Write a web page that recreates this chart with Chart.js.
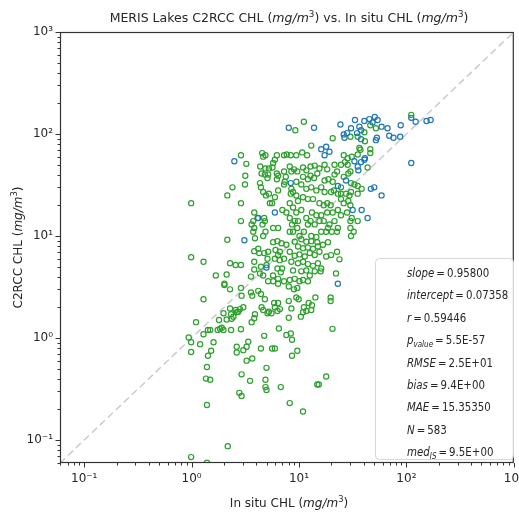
<!DOCTYPE html>
<html><head><meta charset="utf-8">
<script src="https://cdn.jsdelivr.net/npm/chart.js@4/dist/chart.umd.min.js"></script>
<style>html,body{margin:0;padding:0;background:#fff}</style>
</head><body>
<canvas id="c" width="519" height="513"></canvas>
<script>
// ---------- data ----------
const greenX = [2.88,3.23,3.16,3.14,2.40,2.15,0.99,2.88,2.88,2.15,0.99,1.29,2.28,2.57,2.88,1.68,2.12,3.57,2.02,
4.54,4.87,4.64,6.22,5.96,5.74,7.26,7.69,4.35,4.87,5.24,5.66,4.48,4.81,5.16,6.22,6.39,7.26,7.53,5.09,6.22,7.37,7.26,
4.33,4.42,4.64,4.92,5.24,6.39,5.96,5.35,5.62,7.00,7.63,3.83,4.11,3.75,3.62,4.74,4.81,4.57,3.83,3.75,6.39,5.74,4.87,
4.64,3.89,5.74,6.30,6.86,7.63,4.17,3.83,4.26,4.74,5.16,6.04,6.63,6.39,3.83,5.09,5.96,6.63,7.26,4.98,4.42,6.30,6.96,
6.77,3.83,4.33,4.64,5.74,6.39,5.74,5.16,6.39,7.26,
9.24,11.1,46.1,52.0,30.1,35.2,41.1,20.6,13.0,10.7,11.9,8.38,9.44,26.1,28.4,31.0,35.2,37.3,36.5,46.1,46.1,43.5,
21.4,24.6,26.8,28.4,17.3,18.3,14.0,15.5,14.8,10.9,11.7,12.8,8.20,8.99,9.64,8.49,21.4,22.6,26.1,28.8,30.1,10.9,
12.1,12.8,13.8,17.3,18.8,20.6,9.44,30.5,32.8,24.6,35.2,38.3,10.5,11.7,13.0,14.5,16.1,8.49,8.80,9.44,8.38,17.3,
19.9,21.1,23.0,24.6,27.4,29.5,30.5,35.2,10.9,12.1,13.5,9.79,8.20,15.5,17.0,18.3,19.7,24.6,26.1,28.8,30.1,8.80,
9.44,10.5,13.2,14.5,16.1,18.3,20.6,23.0,24.6,28.0,31.0,35.2,30.1,8.20,9.12,9.79,8.61,9.64,11.7,12.8,12.1,14.0,
15.5,17.0,19.2,21.4,23.0,18.6,20.2,22.6,17.9,8.20,8.80,10.1,11.1,30.1,32.3,13.0,14.5,16.1,30.5,9.12,10.5,11.7,
13.0,14.8,9.79,10.9,12.1,13.5,15.0,16.7,18.6,22.6,19.9,17.9,8.20,9.12,10.1,11.3,12.6,14.0,15.5,8.49,9.79,10.9,
12.1,13.5,15.0,16.1,8.80,10.5,11.7,12.6,14.0,15.9,22.1,9.12,10.1,10.9,12.1,8.20,23.8,
2.02,2.28,2.88,2.92,3.57,3.67,4.17,4.42,1.29,4.81,4.48,4.64,5.09,5.87,6.39,6.63,6.30,5.96,5.54,5.24,3.03,2.28,
2.57,2.82,2.72,1.98,2.33,2.45,2.63,3.89,3.83,3.62,2.36,1.80,2.12,1.10,1.42,1.49,1.29,1.75,1.84,1.91,1.98,2.33,
2.88,0.94,0.99,1.20,1.60,4.74,6.49,7.63,0.99,1.42,1.52,2.63,2.63,3.03,3.25,3.37,4.42,5.62,5.96,3.67,3.25,1.39,
4.98,2.92,1.36,1.49,3.50,4.87,6.77,4.87,4.98,2.78,2.92,1.39,2.17,0.99,1.39,
14.8,15.3,17.9,20.5,19.7,19.7,8.03,8.99,9.64,9.44,9.93,8.03,8.49,11.1,12.3,13.2,10.9,11.7,13.0,10.4,14.2,8.03,
8.38,8.61,9.64,8.61,8.20,10.9,111,40.6];
const greenY = [62,51,39,32,30,25,21,21,14,9.2,6.2,5.6,5.4,5.2,5.2,4.1,4.2,4.0,3.4,
65,62,60,62,56,52,62,63,48,46,46,47,41,40,40,41,39,43,38,37,36,34,32,
33,30,27,25,26,28,24,21,21,18,17,17,15,14,13,15,14,13,12,11,12,12,11,
10,9.5,8.7,8.9,8.5,8.2,7.5,7.1,6.8,6.8,7.0,7.3,7.0,6.5,5.6,6.0,6.0,5.8,6.0,5.2,5.0,4.8,4.8,
4.4,4.7,4.3,4.1,4.1,3.8,3.6,3.6,3.4,3.6,
109,132,122,114,94,94,85,91,77,66,62,62,62,62,58,60,63,70,73,71,65,47,
50,50,53,50,50,45,49,46,41,47,44,48,48,45,43,43,40,43,38,41,43,38,
36,39,37,35,36,34,34,33,32,30,31,29,32,29,30,28,30,29,27,25,26,27,
27,28,26,26,26,25,27,26,24,23,23,22,21,21,20,21,20,23,21,22,20,19,
17,18,17,16,16,17,17,18,16,17,15,14,14,15,14,14,13,12,15,14,13,13,
14,14,13,14,12,12,11,11,11,11,11,10,11,12,11,10,9.8,11,10,8.8,9.3,8.8,
8.9,8.7,7.9,7.6,7.7,7.5,7.9,8.2,8.7,7.0,6.5,6.3,7.0,6.4,6.6,6.3,6.8,6.5,7.0,5.6,5.4,5.6,
5.3,5.1,5.4,4.8,4.6,4.5,4.6,4.1,4.5,4.5,4.3,3.8,3.6,3.7,3.6,3.7,5.9,
3.3,3.0,3.1,2.6,2.8,2.6,2.9,2.7,2.4,2.4,2.0,1.88,1.75,2.2,2.2,1.92,1.84,2.0,1.75,1.81,2.0,1.95,
1.88,1.92,1.81,1.75,1.71,1.62,1.79,1.71,1.56,1.43,1.54,1.50,1.52,1.43,1.20,1.20,1.09,1.20,1.23,1.26,1.20,1.20,
1.22,1.01,0.91,0.87,0.91,1.05,1.24,1.07,0.73,0.67,0.75,0.82,0.72,0.76,0.82,0.92,0.79,0.79,0.79,0.63,0.60,0.52,
0.51,0.44,0.40,0.39,0.38,0.39,0.33,0.33,0.31,0.29,0.27,0.22,0.087,0.068,0.060,
0.35,0.35,0.42,1.23,2.5,2.3,3.2,3.0,3.1,2.5,2.4,2.3,1.95,2.0,2.2,2.1,1.79,1.84,1.88,1.62,2.5,1.58,
1.11,0.96,0.75,0.67,0.23,0.19,154,104];
const blueX = [8.03,2.50,3.10,5.96,4.17,4.98,13.8,24.3,33.2,40.6,45.2,50.8,53.9,48.4,58.7,66.7,75.8,69.2,30.5,28.0,
26.1,36.5,26.5,37.8,52.0,53.1,16.1,17.9,19.2,17.3,32.8,37.8,40.6,41.1,35.2,35.7,8.38,27.4,23.0,46.7,50.2,58.7,
31.6,38.3,43.5,23.0,88.5,87.5,111,122,154,168,111,37.8,34.7];
const blueY = [115,54,9.1,17,15,4.9,115,124,137,134,140,147,137,130,118,114,92,96,114,102,
99,118,92,89,87,92,71,75,67,62,54,53,56,58,48,44,33,35,31,29,30,25,
18,18,15,3.4,122,94,144,132,134,137,52,109,102];
const axisMin = 0.0595, axisMax = 1000;
const oneToOne = [axisMin, axisMax];
const decadeValues = [0.1, 1, 10, 100, 1000];
const decadeLabels = ['10\u207B\u00B9', '10\u2070', '10\u00B9', '10\u00B2', '10\u00B3'];
const minorMultipliers = [2,3,4,5,6,7,8,9];
const statLabels = ['slope','intercept','r','p','RMSE','bias','MAE','N','med'];
const statSubs   = ['','','','value','','','','','IS'];
const statValues = ['0.95800','0.07358','0.59446','5.5E-57','2.5E+01','9.4E+00','15.35350','583','9.5E+00'];
const titleParts = [['MERIS Lakes C2RCC CHL (','n'],['mg/m','i'],['3','sup'],[') vs. In situ CHL (','n'],['mg/m','i'],['3','sup'],[')','n']];
const xTitleParts = [['In situ CHL (','n'],['mg/m','i'],['3','sup'],[')','n']];
const yTitleParts = [['C2RCC CHL (','n'],['mg/m','i'],['3','sup'],[')','n']];

// ---------- helpers ----------
const FAM = "'DejaVu Sans', sans-serif";
const TXT = '#262626';
function allTicks(){
  const out=[];
  [0.01,0.1,1,10,100,1000].forEach(d=>{ out.push(d); minorMultipliers.forEach(m=>out.push(+(d*m).toPrecision(3))); });
  return out.filter(v=>v>=axisMin && v<=axisMax);
}
function isDecade(v){ const l=Math.log10(v); return Math.abs(l-Math.round(l))<1e-6; }
function labelFor(v){ const i=decadeValues.findIndex(d=>Math.abs(d-v)/d<1e-6); return i>=0?decadeLabels[i]:''; }
function fontFor(s,size){
  const small = (s.indexOf('sup')===0||s.indexOf('sub')===0);
  const ital = (s==='i'||s==='subi');
  return (ital?'italic ':'')+(small?size*0.7:size)+'px '+FAM;
}
function drawRich(ctx,parts,x,y,align,size,hs){
  hs = hs || 1;
  let w=0;
  const segs=parts.map(([t,s])=>{const f=fontFor(s,size);ctx.font=f;const mw=ctx.measureText(t).width;w+=mw;return{t,s,f,mw};});
  let cx = align==='center'? -w/2 : (align==='right'? -w : 0);
  ctx.save(); ctx.translate(x,y); ctx.scale(hs,1);
  ctx.textAlign='left'; ctx.textBaseline='alphabetic';
  segs.forEach(g=>{ctx.font=g.f;let dy=0;if(g.s.indexOf('sup')===0)dy=-0.42*size;if(g.s.indexOf('sub')===0)dy=0.25*size;ctx.fillText(g.t,cx,dy);cx+=g.mw;});
  ctx.restore();
}

const overlay = {
  id:'overlay',
  afterDatasetsDraw(chart){
    const ctx=chart.ctx, a=chart.chartArea, xs=chart.scales.x, ys=chart.scales.y;
    ctx.save();
    ctx.strokeStyle='#333'; ctx.lineWidth=1;
    ctx.beginPath();
    xs.ticks.forEach(t=>{const px=Math.round(xs.getPixelForValue(t.value))+0.5;const len=isDecade(t.value)?4.5:2.5;ctx.moveTo(px,a.bottom);ctx.lineTo(px,a.bottom+len);});
    ys.ticks.forEach(t=>{const py=Math.round(ys.getPixelForValue(t.value))+0.5;const len=isDecade(t.value)?4.5:2.5;ctx.moveTo(a.left,py);ctx.lineTo(a.left-len,py);});
    ctx.stroke();
    ctx.lineWidth=1.2;
    ctx.strokeRect(a.left+0.5,a.top+0.5,a.right-a.left-1,a.bottom-a.top-1);
    // stats box
    const bx=375, by=258, bw=138, bh=201;
    ctx.beginPath(); ctx.roundRect(bx+0.5,by+0.5,bw,bh,4);
    ctx.fillStyle='rgba(255,255,255,0.8)'; ctx.fill();
    ctx.strokeStyle='#d6d6d6'; ctx.lineWidth=1; ctx.stroke();
    ctx.fillStyle=TXT;
    statLabels.forEach((lab,i)=>{
      const parts=[[lab,'i']];
      if(statSubs[i]) parts.push([statSubs[i],'subi']);
      parts.push(['\u2009=\u2009','n']); parts.push([statValues[i],'n']);
      drawRich(ctx,parts,407,277+i*22.4,'left',11.5,0.89);
    });
    // titles
    drawRich(ctx,titleParts,289,22,'center',12.5);
    drawRich(ctx,xTitleParts,289,507,'center',12);
    ctx.save(); ctx.translate(22,247.5); ctx.rotate(-Math.PI/2);
    drawRich(ctx,yTitleParts,0,0,'center',12);
    ctx.restore();
    ctx.restore();
  }
};

const tickFont = {family:"'DejaVu Sans', sans-serif", size:12};
new Chart(document.getElementById('c').getContext('2d'), {
  type:'scatter',
  data:{datasets:[
    {type:'line', data:oneToOne.map(v=>({x:v,y:v})), borderColor:'rgba(200,200,200,0.95)', borderDash:[7,4], borderWidth:1.5, pointRadius:0, fill:false, clip:0, order:3},
    {data:greenX.map((x,i)=>({x:x,y:greenY[i]})), borderColor:'#2ca02c', backgroundColor:'rgba(0,0,0,0)', pointRadius:2.6, borderWidth:1.2, clip:0, order:2},
    {data:blueX.map((x,i)=>({x:x,y:blueY[i]})), borderColor:'#1f77b4', backgroundColor:'rgba(0,0,0,0)', pointRadius:2.6, borderWidth:1.2, clip:0, order:1}
  ]},
  options:{
    responsive:false, animation:false, devicePixelRatio:1,
    layout:{padding:{top:32,right:1,left:0,bottom:0}},
    plugins:{legend:{display:false}, tooltip:{enabled:false}, title:{display:false}},
    scales:{
      x:{type:'logarithmic', min:axisMin, max:axisMax,
        afterBuildTicks:s=>{s.ticks=allTicks().map(v=>({value:v}));},
        afterFit:s=>{s.height=50;s.paddingLeft=0;s.paddingRight=0;},
        grid:{display:false, drawTicks:false}, border:{display:false},
        ticks:{autoSkip:false, maxRotation:0, minRotation:0, padding:9, font:tickFont, color:TXT, callback:v=>labelFor(v)}},
      y:{type:'logarithmic', min:axisMin, max:axisMax,
        afterBuildTicks:s=>{s.ticks=allTicks().map(v=>({value:v}));},
        afterFit:s=>{s.width=60;s.paddingTop=0;s.paddingBottom=0;},
        grid:{display:false, drawTicks:false}, border:{display:false},
        ticks:{autoSkip:false, padding:7, font:tickFont, color:TXT, callback:v=>labelFor(v)}}
    }
  },
  plugins:[overlay]
});
</script>
</body></html>
